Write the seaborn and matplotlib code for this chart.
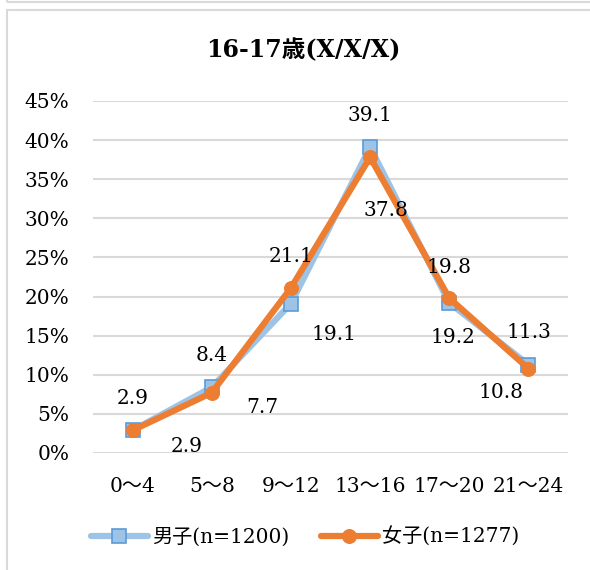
import pandas as pd
import seaborn as sns
import matplotlib.pyplot as plt
import matplotlib.ticker as mtick
from matplotlib.patches import Rectangle

# data
categories = ["0～4", "5～8", "9～12", "13～16", "17～20", "21～24"]
boys = [2.9, 8.4, 19.1, 39.1, 19.2, 11.3]
girls = [2.9, 7.7, 21.1, 37.8, 19.8, 10.8]
boys_label = "男子(n=1200)"
girls_label = "女子(n=1277)"
title = "16-17歳(X/X/X)"

BLUE_LINE = "#9DC3E6"
BLUE_EDGE = "#5B9BD5"
ORANGE = "#ED7D31"
GRID = "#D9D9D9"
FS = 14.5

# label offsets in pixels (dx, dy)
boys_offsets = [(0, 32), (0, 32), (43, -31), (0, 32), (4, -35), (1, 32)]
girls_offsets = [(54, -16), (51, -15), (0, 31), (16, -53), (0, 31), (-27, -24)]


def main():
    sns.set_theme(style="white")
    plt.rcParams["font.family"] = ["DejaVu Serif", "Noto Sans CJK JP"]
    plt.rcParams["text.color"] = "black"

    fig = plt.figure(figsize=(5.9, 5.7), dpi=100)
    ax = fig.add_axes([93 / 590, 1 - 453 / 570, 475 / 590, 352 / 570])

    # chart frames (Excel style)
    fig.patches.append(Rectangle((7 / 590, -0.1), 1.2, 1 - 10.5 / 570 + 0.1,
                                 transform=fig.transFigure, fill=False,
                                 edgecolor=GRID, linewidth=1.5))
    fig.patches.append(Rectangle((7 / 590, 1 - 1.5 / 570), 1.2, 0.5,
                                 transform=fig.transFigure, fill=False,
                                 edgecolor=GRID, linewidth=1.5))

    df_b = pd.DataFrame({"cat": categories, "val": boys})
    df_g = pd.DataFrame({"cat": categories, "val": girls})

    sns.lineplot(data=df_b, x="cat", y="val", ax=ax, sort=False,
                 color=BLUE_LINE, linewidth=4.5, marker="s", markersize=10,
                 markerfacecolor=BLUE_LINE, markeredgecolor=BLUE_EDGE,
                 markeredgewidth=1.2, label=boys_label, zorder=3)
    sns.lineplot(data=df_g, x="cat", y="val", ax=ax, sort=False,
                 color=ORANGE, linewidth=4.5, marker="o", markersize=10,
                 markerfacecolor=ORANGE, markeredgecolor=ORANGE,
                 label=girls_label, zorder=4)

    for i, (v, off) in enumerate(zip(boys, boys_offsets)):
        ax.annotate(f"{v:.1f}", (i, v), xytext=off, textcoords="offset pixels",
                    ha="center", va="center", fontsize=FS, zorder=5)
    for i, (v, off) in enumerate(zip(girls, girls_offsets)):
        ax.annotate(f"{v:.1f}", (i, v), xytext=off, textcoords="offset pixels",
                    ha="center", va="center", fontsize=FS, zorder=5)

    ax.set_xlim(-0.5, len(categories) - 0.5)
    ax.set_ylim(0, 45)
    ax.set_yticks(range(0, 46, 5))
    ax.yaxis.set_major_formatter(mtick.PercentFormatter(100, decimals=0))
    ax.yaxis.grid(True, color=GRID, linewidth=1.5)
    ax.set_axisbelow(True)
    for s in ax.spines.values():
        s.set_visible(False)
    ax.set(xlabel="", ylabel="")
    ax.tick_params(axis="y", labelsize=FS, pad=17, length=0, colors="black")
    ax.tick_params(axis="x", labelsize=FS, pad=17, length=0, colors="black")

    ax.legend(loc="center", bbox_to_anchor=(305 / 590, 1 - 537 / 570),
              bbox_transform=fig.transFigure, ncol=2, frameon=False,
              fontsize=FS, handlelength=2.8, columnspacing=1.6,
              handletextpad=0.2)

    fig.text(303 / 590, 1 - 50 / 570, title, ha="center", va="center",
             fontsize=17, fontweight="bold")

    fig.savefig("out.png", dpi=100)


if __name__ == "__main__":
    main()
